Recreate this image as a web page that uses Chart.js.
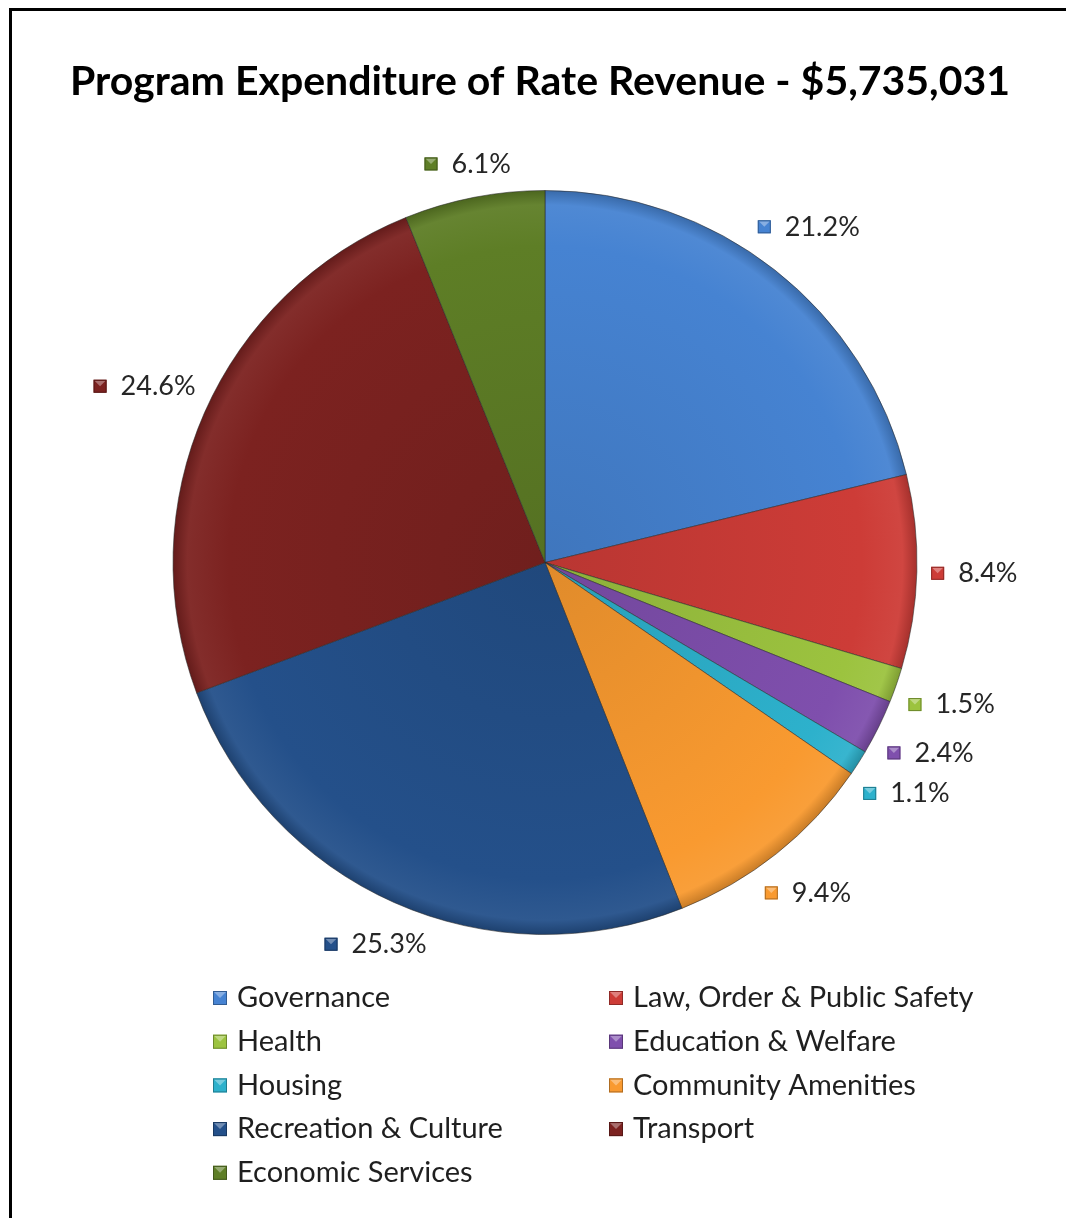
<!DOCTYPE html>
<html>
<head>
<meta charset="utf-8">
<script src="https://cdn.jsdelivr.net/npm/chart.js@4.4.1/dist/chart.umd.min.js"></script>
<style>
  html, body { margin: 0; padding: 0; background: #fff; }
  #wrap { position: relative; width: 1066px; height: 1218px; }
  #frame { position: absolute; left: 9px; top: 8px; right: 0; bottom: 0;
           border-left: 3px solid #000; border-top: 3px solid #000; pointer-events: none; }
</style>
</head>
<body>
<div id="wrap">
  <canvas id="pieChart" width="1066" height="1218"></canvas>
  <div id="frame"></div>
</div>
<script>
const categories = [
    "Governance",
    "Law, Order & Public Safety",
    "Health",
    "Education & Welfare",
    "Housing",
    "Community Amenities",
    "Recreation & Culture",
    "Transport",
    "Economic Services"
];
const shares = [21.2, 8.4, 1.5, 2.4, 1.1, 9.4, 25.3, 24.6, 6.1];
const sliceColors = [
    '#4683d2', '#cd3c37', '#9cc33f', '#7f4fad', '#2db1cc',
    '#f99a30', '#24508a', '#7c2220', '#5e7e26'
];
const chartTitle = 'Program Expenditure of Rate Revenue - $5,735,031';

const FONT = 'Lato, "Open Sans", sans-serif';

function shade(hex, amt) {
    const n = parseInt(hex.slice(1), 16);
    let r = (n >> 16) & 255, g = (n >> 8) & 255, b = n & 255;
    const f = v => Math.max(0, Math.min(255, Math.round(amt < 0 ? v * (1 + amt) : v + (255 - v) * amt)));
    return 'rgb(' + f(r) + ',' + f(g) + ',' + f(b) + ')';
}

function sliceFill(context) {
    const chart = context.chart;
    const base = sliceColors[context.dataIndex];
    const area = chart.chartArea;
    if (!area) return base;
    const cx = (area.left + area.right) / 2;
    const cy = (area.top + area.bottom) / 2;
    const r = Math.min(area.width, area.height) / 2;
    const g = chart.ctx.createRadialGradient(cx, cy, 0, cx, cy, r);
    g.addColorStop(0, shade(base, -0.1));
    g.addColorStop(0.85, base);
    g.addColorStop(0.96, shade(base, 0.05));
    g.addColorStop(1, shade(base, -0.2));
    return g;
}

function drawMarker(ctx, x, y, s, color) {
    // x, y = top-left
    ctx.save();
    ctx.fillStyle = color;
    ctx.fillRect(x, y, s, s);
    ctx.beginPath();
    ctx.moveTo(x + 1, y + 1);
    ctx.lineTo(x + s - 1, y + 1);
    ctx.lineTo(x + s / 2, y + s / 2);
    ctx.closePath();
    ctx.fillStyle = shade(color, 0.35);
    ctx.fill();
    ctx.strokeStyle = shade(color, -0.3);
    ctx.lineWidth = 1;
    ctx.strokeRect(x + 0.5, y + 0.5, s - 1, s - 1);
    ctx.restore();
}

const decorations = {
    id: 'decorations',
    afterDraw(chart) {
        const ctx = chart.ctx;
        const meta = chart.getDatasetMeta(0);
        ctx.save();

        // title
        ctx.fillStyle = '#000';
        ctx.font = 'bold 41px ' + FONT;
        ctx.textAlign = 'center';
        ctx.textBaseline = 'middle';
        ctx.fillText(chartTitle, 540, 82);

        // data labels outside the slices
        ctx.font = '27px ' + FONT;
        ctx.textBaseline = 'middle';
        ctx.textAlign = 'left';
        const mk = 13, gapText = 14, gap = 14;
        meta.data.forEach((arc, i) => {
            const p = arc.getProps(['x', 'y', 'startAngle', 'endAngle', 'outerRadius'], true);
            const mid = (p.startAngle + p.endAngle) / 2;
            const ux = Math.cos(mid), uy = Math.sin(mid);
            const txt = shares[i].toFixed(1) + '%';
            const w = mk + gapText + ctx.measureText(txt).width;
            const h = 24;
            const d = p.outerRadius + gap + Math.abs(ux) * w / 2 + Math.abs(uy) * h / 2;
            const bx = p.x + ux * d - w / 2;
            const by = p.y + uy * d;
            drawMarker(ctx, bx, by - mk / 2, mk, sliceColors[i]);
            ctx.fillStyle = '#262626';
            ctx.fillText(txt, bx + mk + gapText, by);
        });

        // legend, two columns
        ctx.font = '29px ' + FONT;
        const colX = [213, 609];
        const row0 = 998, rowStep = 43.7;
        categories.forEach((name, i) => {
            const x = colX[i % 2];
            const y = row0 + Math.floor(i / 2) * rowStep;
            drawMarker(ctx, x, y - 7, 14, sliceColors[i]);
            ctx.fillStyle = '#1f1f1f';
            ctx.fillText(name, x + 24, y);
        });
        ctx.restore();
    }
};

new Chart(document.getElementById('pieChart'), {
    type: 'pie',
    data: {
        labels: categories,
        datasets: [{
            data: shares,
            backgroundColor: sliceFill,
            borderColor: 'rgba(40,40,40,0.55)',
            borderWidth: 1
        }]
    },
    options: {
        responsive: false,
        animation: false,
        devicePixelRatio: 1,
        layout: { padding: { top: 190, bottom: 283, left: 145, right: 121 } },
        plugins: {
            legend: { display: false },
            title: { display: false },
            tooltip: { enabled: false }
        }
    },
    plugins: [decorations]
});
</script>
</body>
</html>
